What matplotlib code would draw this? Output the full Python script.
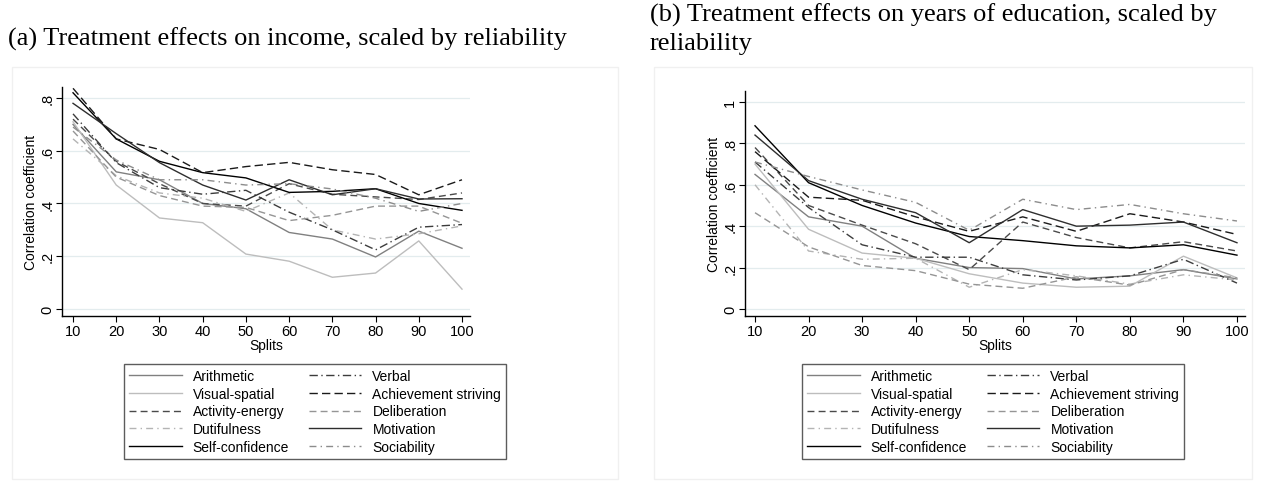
import matplotlib
matplotlib.use("Agg")
import matplotlib.pyplot as plt
from matplotlib.patches import Rectangle

# Correlation coefficients
splits = [10, 20, 30, 40, 50, 60, 70, 80, 90, 100]

# panel (a): income
arith_a = [0.70, 0.52, 0.49, 0.40, 0.38, 0.29, 0.265, 0.197, 0.295, 0.23]
visual_a = [0.71, 0.47, 0.345, 0.327, 0.208, 0.181, 0.12, 0.136, 0.258, 0.075]
activity_a = [0.72, 0.56, 0.475, 0.40, 0.39, 0.475, 0.435, 0.425, 0.415, 0.44]
dutiful_a = [0.645, 0.505, 0.44, 0.42, 0.37, 0.44, 0.30, 0.265, 0.285, 0.315]
selfconf_a = [0.82, 0.645, 0.56, 0.517, 0.497, 0.442, 0.446, 0.456, 0.40, 0.374]
verbal_a = [0.74, 0.555, 0.46, 0.435, 0.45, 0.367, 0.30, 0.224, 0.31, 0.32]
achieve_a = [0.837, 0.645, 0.605, 0.517, 0.54, 0.556, 0.528, 0.51, 0.433, 0.49]
delib_a = [0.675, 0.50, 0.43, 0.39, 0.385, 0.335, 0.355, 0.39, 0.39, 0.325]
motiv_a = [0.78, 0.665, 0.555, 0.47, 0.413, 0.49, 0.433, 0.456, 0.417, 0.418]
social_a = [0.69, 0.565, 0.49, 0.49, 0.47, 0.475, 0.455, 0.42, 0.37, 0.40]

# panel (b): years of education
arith_b = [0.65, 0.445, 0.40, 0.245, 0.20, 0.195, 0.145, 0.16, 0.19, 0.145]
visual_b = [0.70, 0.385, 0.27, 0.245, 0.17, 0.125, 0.105, 0.11, 0.255, 0.15]
activity_b = [0.78, 0.50, 0.405, 0.315, 0.19, 0.42, 0.345, 0.295, 0.325, 0.28]
dutiful_b = [0.60, 0.28, 0.24, 0.245, 0.105, 0.19, 0.16, 0.12, 0.165, 0.14]
selfconf_b = [0.885, 0.61, 0.50, 0.415, 0.35, 0.33, 0.305, 0.295, 0.31, 0.26]
verbal_b = [0.71, 0.49, 0.31, 0.25, 0.25, 0.165, 0.14, 0.16, 0.24, 0.125]
achieve_b = [0.76, 0.54, 0.525, 0.445, 0.375, 0.445, 0.375, 0.46, 0.42, 0.36]
delib_b = [0.465, 0.30, 0.21, 0.185, 0.12, 0.10, 0.155, 0.115, 0.19, 0.15]
motiv_b = [0.84, 0.62, 0.53, 0.465, 0.32, 0.48, 0.40, 0.405, 0.42, 0.32]
social_b = [0.71, 0.64, 0.575, 0.515, 0.38, 0.53, 0.48, 0.505, 0.46, 0.425]

# legend order (matplotlib fills columns first)
names = ["Arithmetic", "Visual-spatial", "Activity-energy", "Dutifulness",
         "Self-confidence", "Verbal", "Achievement striving", "Deliberation",
         "Motivation", "Sociability"]
series_a = [arith_a, visual_a, activity_a, dutiful_a, selfconf_a,
            verbal_a, achieve_a, delib_a, motiv_a, social_a]
series_b = [arith_b, visual_b, activity_b, dutiful_b, selfconf_b,
            verbal_b, achieve_b, delib_b, motiv_b, social_b]

styles = [
    ("#808080", "-"),
    ("#bdbdbd", "-"),
    ("#4a4a4a", (0, (5, 3))),
    ("#b4b4b4", (0, (5, 3, 1, 3))),
    ("#000000", "-"),
    ("#3c3c3c", (0, (6, 2.5, 1, 2.5))),
    ("#1a1a1a", (0, (6, 3))),
    ("#959595", (0, (5, 3))),
    ("#2e2e2e", "-"),
    ("#8c8c8c", (0, (5, 3, 1, 3))),
]

W, H = 1263, 485
fig = plt.figure(figsize=(W / 100, H / 100), dpi=100)
plt.rcParams["font.family"] = ["Liberation Sans", "DejaVu Sans"]


def rect(x0, y0, x1, y1):
    return [x0 / W, 1 - y1 / H, (x1 - x0) / W, (y1 - y0) / H]


def panel(ax, series, yticks, ylabels, xlim, ylim, leg_x):
    for vals, name, (col, ls) in zip(series, names, styles):
        ax.plot(splits, vals, color=col, linestyle=ls, lw=1.0, label=name)
    ax.set_xlim(*xlim)
    ax.set_ylim(*ylim)
    ax.set_xticks(splits)
    ax.set_yticks(yticks)
    ax.set_yticklabels(ylabels, rotation=90, va="center")
    ax.tick_params(labelsize=10.5, length=4, width=0.8, color="black", pad=1.5)
    ax.grid(axis="y", color="#e3ecee", lw=0.9)
    ax.set_axisbelow(True)
    for s in ["top", "right"]:
        ax.spines[s].set_visible(False)
    for s in ["left", "bottom"]:
        ax.spines[s].set_linewidth(1.0)
    ax.set_xlabel("Splits", fontsize=10, labelpad=0)
    ax.set_ylabel("Correlation coefficient", fontsize=10, labelpad=2)
    fig.legend(handles=ax.get_lines(), ncol=2, loc="upper center",
               bbox_to_anchor=(leg_x / W, 1 - 365 / H),
               fontsize=10, frameon=True, fancybox=False, edgecolor="#333333",
               handlelength=3.8, columnspacing=1.4, labelspacing=0.27,
               borderpad=0.35, handletextpad=0.8, borderaxespad=0)


# graph region boxes
for x0, x1 in [(12, 618), (654, 1252)]:
    fig.patches.append(Rectangle((x0 / W, 1 - 480 / H), (x1 - x0) / W, 412 / H,
                                 transform=fig.transFigure, fill=False,
                                 edgecolor="#f0f0f0", lw=1.0))

ax_a = fig.add_axes(rect(62, 88, 470, 317))
panel(ax_a, series_a, [0, 0.2, 0.4, 0.6, 0.8], ["0", ".2", ".4", ".6", ".8"],
      (7.45, 101.85), (-0.027, 0.842), 315)

ax_b = fig.add_axes(rect(745, 92, 1245, 317))
panel(ax_b, series_b, [0, 0.2, 0.4, 0.6, 0.8, 1], ["0", ".2", ".4", ".6", ".8", "1"],
      (8.13, 101.5), (-0.034, 1.053), 993)

fig.text(8 / W, 1 - 46 / H, "(a) Treatment effects on income, scaled by reliability",
         family="Liberation Serif", fontsize=19, ha="left", va="baseline")
fig.text(650 / W, 1 - 22 / H, "(b) Treatment effects on years of education, scaled by",
         family="Liberation Serif", fontsize=19, ha="left", va="baseline")
fig.text(650 / W, 1 - 50 / H, "reliability",
         family="Liberation Serif", fontsize=19, ha="left", va="baseline")

fig.savefig("out.png", dpi=100)
